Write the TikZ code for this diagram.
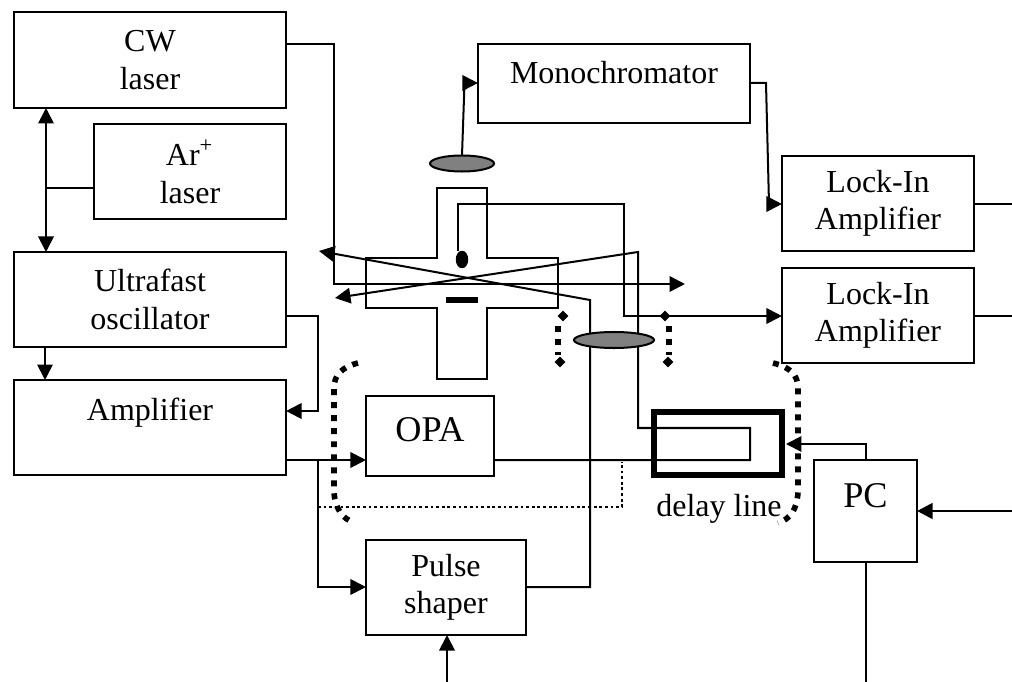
\documentclass[tikz,border=0pt]{standalone}
\usepackage{fontspec}
\setmainfont{Liberation Serif}
\usetikzlibrary{arrows.meta, shapes.geometric, positioning}

\tikzset{
  >={Triangle[length=4.4pt,width=4.4pt]},
  box/.style={draw, line width=0.57pt, inner sep=0pt, outer sep=0pt, align=center, font=\fontsize{9.1}{10.6}\selectfont},
  bigbox/.style={box, font=\fontsize{10.3}{11.5}\selectfont},
  conn/.style={line width=0.57pt},
  lens/.style={draw, ellipse, line width=0.57pt, fill=black!50, inner sep=0pt, outer sep=0pt},
  bracket/.style={line width=1.6pt, dash pattern=on 1.7pt off 2pt},
  dotend/.style={diamond, fill=black, inner sep=0pt, minimum size=3.2pt},
  thinpath/.style={line width=0.8pt, dash pattern=on 0.8pt off 0.8pt}
}

\begin{document}
\begin{tikzpicture}[x=0.01cm, y=-0.01cm]
  \useasboundingbox (0,0) rectangle (1012,682);

  % Boxes
  \node[box, minimum width=2.72cm, minimum height=0.96cm] (cw) at (150,60) {CW\\laser};
  \node[box, minimum width=1.92cm, minimum height=0.95cm] (ar) at (190,171.5) {Ar\textsuperscript{+}\\laser};
  \node[box, minimum width=2.72cm, minimum height=0.95cm] (osc) at (150,299.5) {Ultrafast\\oscillator};
  \node[box, minimum width=2.72cm, minimum height=0.95cm] (amp) at (150,427.5) {Amplifier\\~};
  \node[box, minimum width=2.72cm, minimum height=0.79cm] (mono) at (614,83.5) {Monochromator\\[-0.45em]~};
  \node[box, minimum width=1.92cm, minimum height=0.95cm] (lia) at (878,203.5) {Lock-In\\Amplifier};
  \node[box, minimum width=1.92cm, minimum height=0.95cm] (lib) at (878,315.5) {Lock-In\\Amplifier};
  \node[bigbox, minimum width=1.28cm, minimum height=0.80cm, text depth=0.35em] (opa) at (430,436) {OPA};
  \node[box, minimum width=1.60cm, minimum height=0.95cm] (shaper) at (446,587.5) {Pulse\\shaper};
  \node[bigbox, minimum width=1.03cm, minimum height=1.02cm, text depth=0.9em] (pc) at (865.5,511) {PC};
  \node[font=\fontsize{9.1}{10.6}\selectfont, inner sep=0pt] (delaylabel) at (719,509) {delay line};

  % Free ends
  \coordinate (inright) at (1012,511);
  \coordinate (outa) at (1012,204);
  \coordinate (outb) at (1012,316);
  \coordinate (pcdown) at (866,682);
  \coordinate (shaperin) at (447,682);

  % Cell
  \draw[conn] (437,188) coordinate (cell) -- (487,188) -- (487,258) -- (558,258) -- (558,308) -- (487,308)
    -- (487,379) -- (437,379) -- (437,308) -- (366,308) -- (366,258) -- (437,258) -- cycle;
  \node[draw, ellipse, fill=black, inner sep=0pt, minimum width=0.11cm, minimum height=0.16cm] (sample) at (462,259.5) {};
  \node[fill=black, inner sep=0pt, minimum width=0.32cm, minimum height=0.06cm] (plate) at (462,300) {};

  % Edges
  \draw[conn, ->] (cw.east |- 0,44) -- (334,44) -- (334,284) -- (685,284);
  \draw[conn, <->] (cw.south -| 46,0) -- (osc.north -| 46,0);
  \draw[conn] (ar.west |- 0,188) -- (46,188);
  \draw[conn, ->] (osc.south -| 45,0) -- (amp.north -| 45,0);
  \draw[conn, ->] (osc.east |- 0,316) -- (318,316) -- (318,411) -- (amp.east |- 0,411);
  \draw[conn, ->] (amp.east |- 0,460) -- (opa.west |- 0,460);
  \draw[conn, ->] (318,460) -- (318,587) -- (shaper.west |- 0,587);
  \draw[conn, ->] (opa.east |- 0,460) -- (750,460) -- (750,428) -- (638,428) -- (638,252) -- (335,298);
  \draw[conn, ->] (shaper.east |- 0,587) -- (590,587) -- (590,300) -- (319,251);
  \draw[conn, ->] (mono.east |- 0,83) -- (766,83) -- (769,204) -- (lia.west |- 0,204);
  \draw[conn] (lia.east |- outa) -- (outa);
  \draw[conn] (lib.east |- outb) -- (outb);
  \draw[conn, ->] (sample.north -| 458,0) -- (458,204) -- (624,204) -- (624,316) -- (lib.west |- 0,316);
  \draw[conn, ->] (pc.north -| pcdown) -- (866,444) -- (786,444);
  \draw[line width=0.8pt, ->] (inright) -- (pc.east);
  \draw[conn] (pc.south -| pcdown) -- (pcdown);
  \draw[conn, ->] (shaperin) -- (shaper.south -| shaperin);

  % Delay line and lenses
  \node[draw, line width=1.7pt, minimum width=1.28cm, minimum height=0.63cm, inner sep=0pt, outer sep=0pt] (delay) at (718,443.5) {};
  \node[lens, minimum width=0.64cm, minimum height=0.16cm] (lensa) at (462,163.5) {};
  \node[lens, minimum width=0.80cm, minimum height=0.16cm] (lensb) at (614,340) {};
  \draw[conn, ->] (lensa.north) -- (464.5,83) -- (mono.west |- 0,83);

  % Dotted
  \draw[thinpath] (318,507) -- (622,507) -- (622,462);
  \draw[bracket] (358,363) .. controls (342,367) and (334,375) .. (334,388) -- (334,492) .. controls (335,508) and (342,519) .. (355,523);
  \draw[bracket] (773,363) .. controls (790,367) and (798,375) .. (798,388) -- (798,492) .. controls (797,510) and (790,519) .. (778,523);
  \draw[bracket] (558,326) -- (558,355);
  \draw[bracket] (669,326) -- (669,355);
  \node[dotend] (enda) at (563,316) {};
  \node[dotend] (endb) at (560,362) {};
  \node[dotend] (endc) at (665,316) {};
  \node[dotend] (endd) at (668,362) {};

\end{tikzpicture}
\end{document}
